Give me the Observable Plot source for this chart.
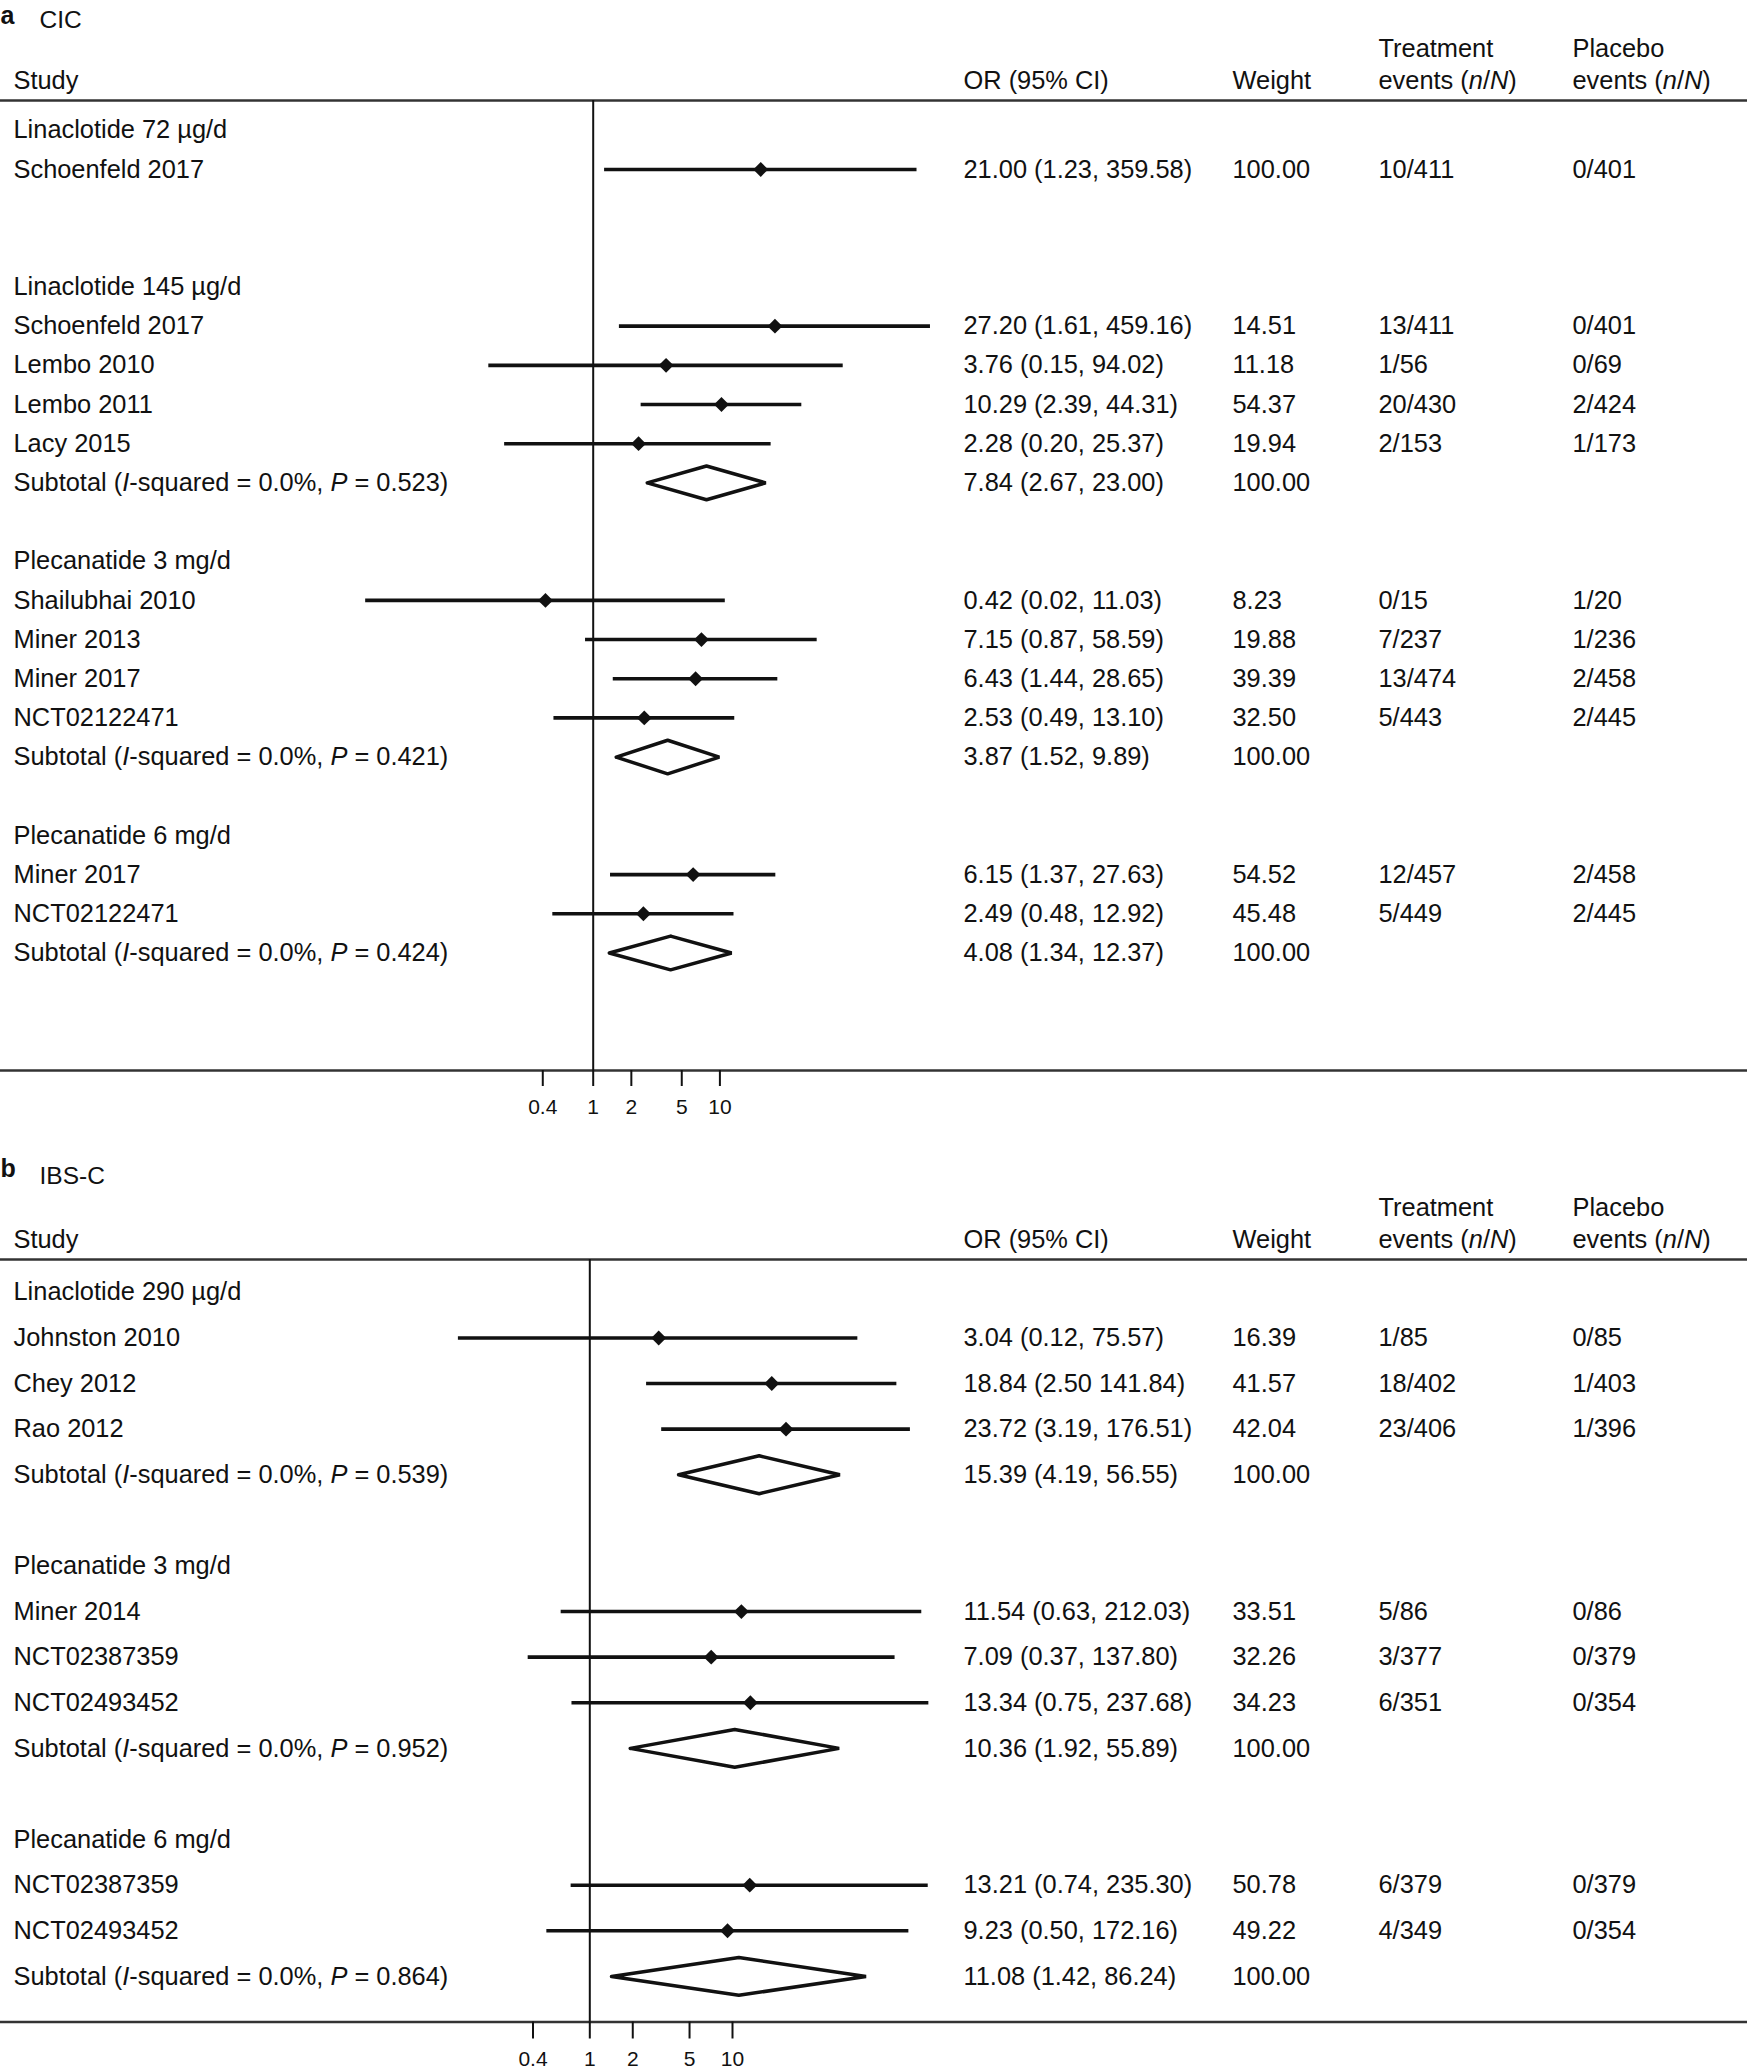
<!DOCTYPE html>
<html><head><meta charset="utf-8">
<script src="https://cdn.jsdelivr.net/npm/d3@7"></script>
<script src="https://cdn.jsdelivr.net/npm/@observablehq/plot@0.6"></script>
<style>
body{margin:0;background:#fff;}
#chart{width:1747px;background:#fff;}
svg{display:block;}
</style></head><body><div id="chart"></div>
<script>
// ---------- Panel a: CIC ----------
const cicKind = ["group","study","blank","blank","group","study","study","study","study","subtotal","blank","group","study","study","study","study","subtotal","blank","group","study","study","subtotal","blank","blank"];
const cicLabel = ["Linaclotide 72 µg/d","Schoenfeld 2017","","","Linaclotide 145 µg/d","Schoenfeld 2017","Lembo 2010","Lembo 2011","Lacy 2015","Subtotal (_I_-squared = 0.0%, _P_ = 0.523)","","Plecanatide 3 mg/d","Shailubhai 2010","Miner 2013","Miner 2017","NCT02122471","Subtotal (_I_-squared = 0.0%, _P_ = 0.421)","","Plecanatide 6 mg/d","Miner 2017","NCT02122471","Subtotal (_I_-squared = 0.0%, _P_ = 0.424)","",""];
const cicOR = [null,21.00,null,null,null,27.20,3.76,10.29,2.28,7.84,null,null,0.42,7.15,6.43,2.53,3.87,null,null,6.15,2.49,4.08,null,null];
const cicLo = [null,1.23,null,null,null,1.61,0.15,2.39,0.20,2.67,null,null,0.016,0.87,1.44,0.49,1.52,null,null,1.37,0.48,1.34,null,null];
const cicHi = [null,359.58,null,null,null,459.16,94.02,44.31,25.37,23.00,null,null,11.03,58.59,28.65,13.10,9.89,null,null,27.63,12.92,12.37,null,null];
const cicOrText = ["","21.00 (1.23, 359.58)","","","","27.20 (1.61, 459.16)","3.76 (0.15, 94.02)","10.29 (2.39, 44.31)","2.28 (0.20, 25.37)","7.84 (2.67, 23.00)","","","0.42 (0.02, 11.03)","7.15 (0.87, 58.59)","6.43 (1.44, 28.65)","2.53 (0.49, 13.10)","3.87 (1.52, 9.89)","","","6.15 (1.37, 27.63)","2.49 (0.48, 12.92)","4.08 (1.34, 12.37)","",""];
const cicWeight = ["","100.00","","","","14.51","11.18","54.37","19.94","100.00","","","8.23","19.88","39.39","32.50","100.00","","","54.52","45.48","100.00","",""];
const cicTreat = ["","10/411","","","","13/411","1/56","20/430","2/153","","","","0/15","7/237","13/474","5/443","","","","12/457","5/449","","",""];
const cicPlacebo = ["","0/401","","","","0/401","0/69","2/424","1/173","","","","1/20","1/236","2/458","2/445","","","","2/458","2/445","","",""];

// ---------- Panel b: IBS-C ----------
const ibsKind = ["group","study","study","study","subtotal","blank","group","study","study","study","subtotal","blank","group","study","study","subtotal"];
const ibsLabel = ["Linaclotide 290 µg/d","Johnston 2010","Chey 2012","Rao 2012","Subtotal (_I_-squared = 0.0%, _P_ = 0.539)","","Plecanatide 3 mg/d","Miner 2014","NCT02387359","NCT02493452","Subtotal (_I_-squared = 0.0%, _P_ = 0.952)","","Plecanatide 6 mg/d","NCT02387359","NCT02493452","Subtotal (_I_-squared = 0.0%, _P_ = 0.864)"];
const ibsOR = [null,3.04,18.84,23.72,15.39,null,null,11.54,7.09,13.34,10.36,null,null,13.21,9.23,11.08];
const ibsLo = [null,0.12,2.50,3.19,4.19,null,null,0.63,0.37,0.75,1.92,null,null,0.74,0.50,1.42];
const ibsHi = [null,75.57,141.84,176.51,56.55,null,null,212.03,137.80,237.68,55.89,null,null,235.30,172.16,86.24];
const ibsOrText = ["","3.04 (0.12, 75.57)","18.84 (2.50 141.84)","23.72 (3.19, 176.51)","15.39 (4.19, 56.55)","","","11.54 (0.63, 212.03)","7.09 (0.37, 137.80)","13.34 (0.75, 237.68)","10.36 (1.92, 55.89)","","","13.21 (0.74, 235.30)","9.23 (0.50, 172.16)","11.08 (1.42, 86.24)"];
const ibsWeight = ["","16.39","41.57","42.04","100.00","","","33.51","32.26","34.23","100.00","","","50.78","49.22","100.00"];
const ibsTreat = ["","1/85","18/402","23/406","","","","5/86","3/377","6/351","","","","6/379","4/349",""];
const ibsPlacebo = ["","0/85","1/403","1/396","","","","0/86","0/379","0/354","","","","0/379","0/354",""];

// ---------- Shared text ----------
const headerLine1 = ["", "", "", "Treatment", "Placebo"];
const headerLine2 = ["Study", "OR (95% CI)", "Weight", "events (_n_/_N_)", "events (_n_/_N_)"];
const xTicks = [0.4, 1, 2, 5, 10];
const xTickLabels = ["0.4", "1", "2", "5", "10"];

const FONT = "'Liberation Sans', Arial, Helvetica, sans-serif";
const INK = "#111";
const FS = 25.4;
const colX = [13, 963, 1232, 1378, 1572];

function italicize(svg) {
  const ns = "http://www.w3.org/2000/svg";
  svg.querySelectorAll("text").forEach(t => {
    const s = t.textContent;
    if (!s.includes("_")) return;
    while (t.firstChild) t.removeChild(t.firstChild);
    s.split("_").forEach((part, i) => {
      const ts = document.createElementNS(ns, "tspan");
      ts.textContent = part;
      if (i % 2) ts.setAttribute("font-style", "italic");
      t.appendChild(ts);
    });
  });
}

function panel(cfg) {
  const {letter, title, kind, label, or, lo, hi, orText, weight, treat, placebo,
         height, marginTop, marginBottom, topRow, bottomRow, xRange, tickSize,
         halfH, letterDy, titleDy, labelDy} = cfg;
  const rows = kind.map((k, i) => ({i, kind: k, label: label[i], or: or[i], lo: lo[i], hi: hi[i],
    orText: orText[i], weight: weight[i], treat: treat[i], placebo: placebo[i]}));
  const studies = rows.filter(d => d.kind === "study");
  const subs = rows.filter(d => d.kind === "subtotal");
  const diamonds = subs.flatMap(d => [
    {id: d.i, x: d.lo, y: d.i}, {id: d.i, x: d.or, y: d.i - halfH},
    {id: d.i, x: d.hi, y: d.i}, {id: d.i, x: d.or, y: d.i + halfH},
    {id: d.i, x: d.lo, y: d.i}, {id: d.i, x: d.or, y: d.i - halfH}
  ]);
  const tickData = xTicks.map((v, k) => ({v, t: xTickLabels[k]}));
  const columns = [["label", colX[0]], ["orText", colX[1]], ["weight", colX[2]], ["treat", colX[3]], ["placebo", colX[4]]];
  const textCommon = {frameAnchor: "left", textAnchor: "start", fontSize: FS, fill: INK, lineAnchor: "middle"};

  const marks = [
    Plot.ruleY([topRow, bottomRow], {stroke: "#333", strokeWidth: 2.5}),
    Plot.ruleX([1], {stroke: INK, strokeWidth: 2}),
    Plot.ruleY(studies, {y: "i", x1: "lo", x2: "hi", stroke: INK, strokeWidth: 3.6}),
    Plot.dot(studies, {x: "or", y: "i", symbol: "diamond2", r: 6.7, fill: INK}),
    Plot.line(diamonds, {x: "x", y: "y", z: "id", stroke: INK, strokeWidth: 3.5, strokeLinejoin: "miter", fill: "none"}),
    ...columns.map(([key, dx]) => Plot.text(rows.filter(d => d[key]), {...textCommon, y: "i", text: key, dx})),
    ...headerLine1.map((h, j) => h ? Plot.text([h], {text: d => d, frameAnchor: "top-left", textAnchor: "start", lineAnchor: "bottom", dx: colX[j], dy: -43.5, fontSize: FS, fill: INK}) : null).filter(Boolean),
    ...headerLine2.map((h, j) => Plot.text([h], {text: d => d, frameAnchor: "top-left", textAnchor: "start", lineAnchor: "bottom", dx: colX[j], dy: -11.5, fontSize: FS, fill: INK})),
    Plot.text([letter], {text: d => d, frameAnchor: "top-left", textAnchor: "start", lineAnchor: "bottom", dx: 0, dy: letterDy, fontSize: 25, fontWeight: "bold", fill: INK}),
    Plot.text([title], {text: d => d, frameAnchor: "top-left", textAnchor: "start", lineAnchor: "bottom", dx: 39, dy: titleDy, fontSize: 24.5, fill: INK}),
    Plot.axisX({ticks: xTicks, tickSize, tickFormat: () => "", strokeWidth: 2, label: null, color: INK}),
    Plot.text(tickData, {x: "v", text: "t", frameAnchor: "bottom", lineAnchor: "top", dy: labelDy, fontSize: 21, fill: INK, textAnchor: "middle"})
  ];

  const svg = Plot.plot({
    width: 1747,
    height,
    marginTop, marginBottom, marginLeft: 0, marginRight: 0,
    style: {fontFamily: FONT, fontSize: "25px", color: INK, background: "#fff", overflow: "visible"},
    x: {type: "log", domain: [0.01, 1000], range: xRange, label: null, axis: null},
    y: {type: "linear", domain: [topRow, bottomRow], reverse: true, axis: null, label: null},
    marks
  });
  italicize(svg);
  return svg;
}

const chart = document.getElementById("chart");
chart.appendChild(panel({
  letter: "a", title: "CIC",
  kind: cicKind, label: cicLabel, or: cicOR, lo: cicLo, hi: cicHi, orText: cicOrText,
  weight: cicWeight, treat: cicTreat, placebo: cicPlacebo,
  height: 1140, marginTop: 100, marginBottom: 70, topRow: -0.76, bottomRow: 24,
  xRange: [339.3, 972.8], tickSize: 16, halfH: 0.43, letterDy: -77, titleDy: -72.5, labelDy: 28.5
}));
chart.appendChild(panel({
  letter: "b", title: "IBS-C",
  kind: ibsKind, label: ibsLabel, or: ibsOR, lo: ibsLo, hi: ibsHi, orText: ibsOrText,
  weight: ibsWeight, treat: ibsTreat, placebo: ibsPlacebo,
  height: 927, marginTop: 119, marginBottom: 45.5, topRow: -0.72, bottomRow: 16,
  xRange: [303.9, 1017.4], tickSize: 17, halfH: 0.415, letterDy: -82.5, titleDy: -75.5, labelDy: 29.5
}));
</script></body></html>
